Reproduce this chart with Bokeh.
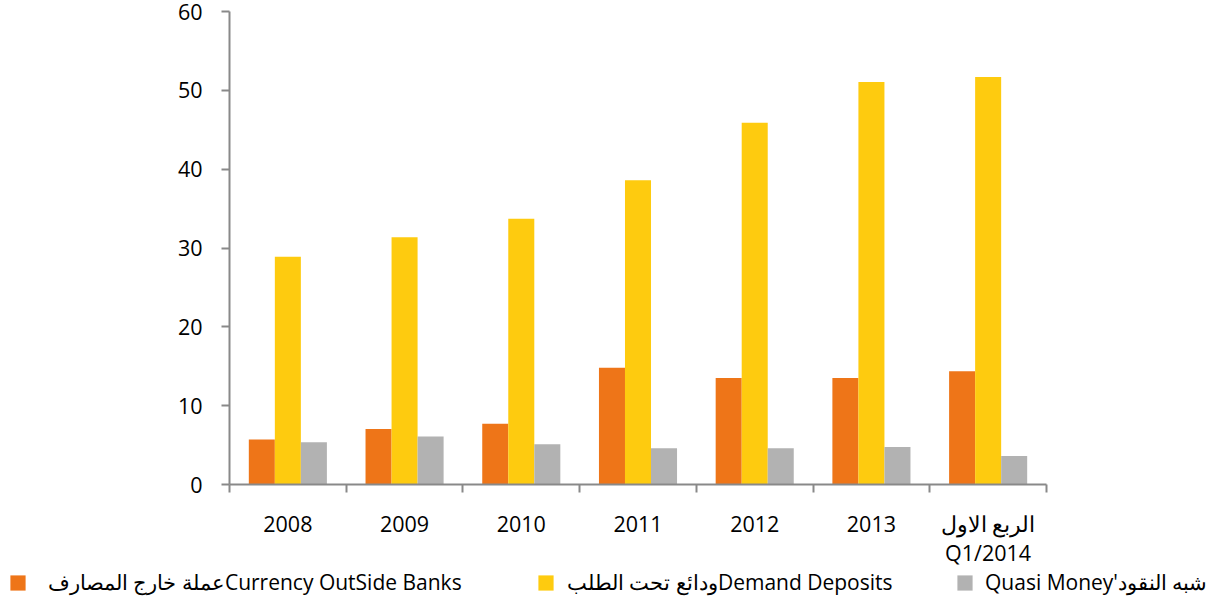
from bokeh.plotting import figure
from bokeh.layouts import column
from bokeh.models import Range1d, FixedTicker, Legend, LegendItem, ColumnDataSource
from bokeh.transform import dodge
from bokeh.embed import file_html
from bokeh.resources import INLINE

categories = ["2008", "2009", "2010", "2011", "2012", "2013", "الربع الاول\nQ1/2014"]
currency_outside_banks = [5.7, 7.05, 7.7, 14.8, 13.5, 13.5, 14.35]
demand_deposits = [28.9, 31.35, 33.7, 38.6, 45.9, 51.05, 51.7]
quasi_money = [5.35, 6.1, 5.1, 4.6, 4.6, 4.75, 3.6]
series_labels = ["عملة خارج المصارفCurrency OutSide Banks",
                 "ودائع تحت الطلبDemand Deposits",
                 "Quasi Money'شبه النقود"]
colors = ["#EE7518", "#FECB0F", "#B2B2B2"]
y_ticks = [0, 10, 20, 30, 40, 50, 60]

n = len(categories)
centers = [i + 0.5 for i in range(n)]
src = ColumnDataSource(dict(x=centers, c=currency_outside_banks, d=demand_deposits, q=quasi_money))

FONT = "Open Sans"
AX = "#898989"
W = 1207
H_MAIN = 569
H_LEG = 29

p = figure(width=W, height=H_MAIN, output_backend="svg", toolbar_location=None,
           x_range=Range1d(0, n), y_range=Range1d(0, 60),
           min_border_left=229, min_border_right=W - 1046, min_border_top=11,
           min_border_bottom=H_MAIN - 485, frame_align=False)
p.outline_line_color = None
p.xgrid.grid_line_color = None
p.ygrid.grid_line_color = None

bw = 0.223
p.vbar(x=dodge('x', -bw, range=p.x_range), top='c', width=bw, source=src,
       fill_color=colors[0], line_color=None)
p.vbar(x=dodge('x', 0, range=p.x_range), top='d', width=bw, source=src,
       fill_color=colors[1], line_color=None)
p.vbar(x=dodge('x', bw, range=p.x_range), top='q', width=bw, source=src,
       fill_color=colors[2], line_color=None)

# x axis
p.xaxis.ticker = FixedTicker(ticks=centers, minor_ticks=list(range(n + 1)))
p.xaxis.major_label_overrides = {c: lab for c, lab in zip(centers, categories)}
p.xaxis.major_tick_line_color = None
p.xaxis.minor_tick_line_color = AX
p.xaxis.minor_tick_line_width = 2
p.xaxis.minor_tick_out = 8
p.xaxis.minor_tick_in = 0
p.xaxis.axis_line_color = AX
p.xaxis.axis_line_width = 2
p.xaxis.major_label_standoff = 16
p.xaxis.major_label_text_font = FONT
p.xaxis.major_label_text_font_size = "21.5px"
p.xaxis.major_label_text_line_height = 1.0
p.xaxis.major_label_text_color = "#000000"

# y axis
p.yaxis.ticker = FixedTicker(ticks=y_ticks)
p.yaxis.minor_tick_line_color = None
p.yaxis.major_tick_line_color = AX
p.yaxis.major_tick_line_width = 2
p.yaxis.major_tick_out = 8
p.yaxis.major_tick_in = 0
p.yaxis.axis_line_color = AX
p.yaxis.axis_line_width = 2
p.yaxis.major_label_standoff = 19
p.yaxis.major_label_text_font = FONT
p.yaxis.major_label_text_font_size = "21.5px"
p.yaxis.major_label_text_color = "#000000"

# legend strip below the chart (legend keys lie out of view, only the legend shows them)
pl = figure(width=W, height=H_LEG, output_backend="svg", toolbar_location=None,
            x_range=Range1d(0, W), y_range=Range1d(0, H_LEG),
            min_border=0, x_axis_type=None, y_axis_type=None, frame_align=False)
pl.outline_line_color = None
pl.xgrid.grid_line_color = None
pl.ygrid.grid_line_color = None
leg_src = ColumnDataSource(dict(x=[-100], y=[-100]))
leg_renderers = [pl.rect(x='x', y='y', width=1, height=1, source=leg_src,
                         fill_color=c, line_color=None) for c in colors]
leg_x = [8, 536, 955]
leg_standoff = [21, 12, 11]
for r, lab, lx, so in zip(leg_renderers, series_labels, leg_x, leg_standoff):
    lg = Legend(items=[LegendItem(label=lab, renderers=[r])], location=(lx, 2),
                orientation="horizontal", padding=0, margin=0, spacing=0,
                border_line_color=None, background_fill_alpha=0,
                glyph_width=19, glyph_height=19, label_standoff=so,
                label_text_font=FONT, label_text_font_size="21px",
                label_text_color="#000000")
    pl.add_layout(lg, "center")

layout = column(p, pl, spacing=0)
open("out.html", "w").write(file_html(layout, INLINE))
